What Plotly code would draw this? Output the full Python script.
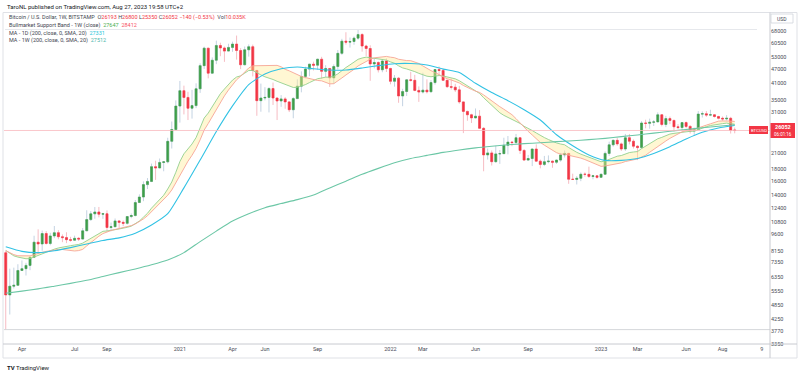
import plotly.graph_objects as go
import pandas as pd
import math

# ---------------- data (weekly BTC/USD, Bitstamp) ----------------
weeks = pd.date_range("2020-03-09", periods=181, freq="7D")

opens = [8040,5360,5830,5880,6780,6900,7120,7700,8900,8750,
         9670,8790,9450,9750,9380,9300,9120,9070,9240,9170,
         9930,11060,11690,11900,11650,11700,10250,10330,10920,10770,
         10670,11390,11500,13030,13740,15480,15960,18400,18170,19160,
         19270,23470,26300,32950,38200,35800,32260,33100,38900,48600,
         57500,45200,51200,59000,57600,55900,57900,59800,56200,49000,
         56600,58300,46400,34700,35600,35800,39000,35600,34600,35300,
         34300,31800,35400,39900,43800,47000,49300,48800,51700,46000,
         47300,43200,48200,54700,61500,60900,61300,63300,65500,58700,
         57300,49400,50100,46700,50800,47300,41800,43100,36300,37900,
         42400,42200,38300,37700,38400,37800,41300,46800,46400,42200,
         39700,39500,38500,34300,31300,30300,29400,29900,26600,20600,
         21000,19300,20800,20850,22600,23300,23200,24300,21500,19600,
         19900,21800,19400,18800,19300,19400,19200,19600,20600,20900,
         16300,16280,16450,17100,17090,16750,16850,16600,17100,20900,
         22700,23700,22900,21800,24300,23500,22400,22100,28000,27900,
         28200,28300,30300,27600,29200,28700,27000,26800,28100,27100,
         25900,26300,30500,30600,30200,30300,29800,29300,29100,29300,
         26193]

highs = [8180,6900,6970,7200,7470,7300,7740,9470,10070,9950,
         9900,9740,10400,9990,9590,9790,9370,9480,9340,10200,
         12100,12000,12480,12490,11800,12080,10750,11180,10990,10970,
         11450,11730,13350,14100,15970,16490,18950,19480,19900,19420,
         24300,28400,34800,41950,40100,37800,38500,41000,49700,58300,
         57500,52600,61800,60600,58400,60000,61200,64900,57500,58400,
         59600,59500,46600,40900,39500,39500,41300,35700,36600,35900,
         34600,35900,42600,46000,48100,49400,50500,51900,52900,48800,
         47300,49200,56500,62900,67000,63700,64300,69000,66400,59400,
         59100,51900,50600,51800,52100,47600,44400,43500,38900,42600,
         45800,44500,39800,45400,42600,42300,46900,48200,47200,42400,
         42900,40800,40000,34400,31500,30600,32200,31700,26900,21900,
         21500,22500,21600,24300,24700,23500,25200,24400,21800,20600,
         21900,22800,19700,20400,20500,19500,19700,21000,21500,21000,
         17200,16800,17400,17400,18400,17000,16900,17200,21300,23400,
         23900,24300,23200,25200,25200,23900,22600,28500,28900,29200,
         28800,31000,30500,30000,29800,28900,27700,28200,28400,27400,
         26800,31400,31300,31400,31800,30400,30000,29800,30200,29700,
         26800]

lows = [3850,4440,5700,5860,6780,6460,6800,7640,8100,8200,
        8700,8640,9250,9150,8900,8820,8950,9060,9000,9140,
        9930,10930,11150,11300,11140,9840,9880,10280,10140,10380,
        10540,11200,11410,12980,13200,14840,15860,16200,18130,17600,
        19000,21900,26100,28100,30400,28800,29200,32300,37400,47100,
        43000,45000,49300,53200,50400,55800,55500,51500,47000,48800,
        53000,43800,30000,31200,34800,31000,33300,28800,32700,32100,
        31100,29300,35300,37600,43000,43900,46400,46700,42800,43400,
        39600,40800,46900,53900,59500,57800,59400,62300,55600,53300,
        42000,47300,45500,45600,45700,40600,39700,34000,32900,36300,
        41700,38000,34300,37200,37200,37600,40500,44200,41900,39200,
        38600,37700,33700,25400,28600,28000,29300,26500,17600,19700,
        18600,19100,18900,20800,20700,22400,22700,20800,19500,19500,
        18500,19300,18100,18500,19000,18200,18900,19300,20100,15600,
        16200,15500,16000,16700,16500,16300,16400,16500,17100,20400,
        22300,22500,21400,21400,22800,21900,19600,21900,26600,26500,
        27200,28200,27100,26900,27700,25800,26400,26100,26600,25300,
        24800,26200,29500,29700,29900,29500,29000,28600,28700,25300,
        25350]

closes = [5360,5830,5880,6780,6900,7120,7700,8900,8750,9670,
          8790,9450,9750,9380,9300,9120,9070,9240,9170,9930,
          11060,11690,11900,11650,11700,10250,10330,10920,10770,10670,
          11390,11500,13030,13740,15480,15960,18400,18170,19160,19270,
          23470,26300,32950,38200,35800,32260,33100,38900,48600,57500,
          45200,51200,59000,57600,55900,57900,59800,56200,49000,56600,
          58300,46400,34700,35600,35800,39000,35600,34600,35300,34300,
          31800,35400,39900,43800,47000,49300,48800,51700,46000,47300,
          43200,48200,54700,61500,60900,61300,63300,65500,58700,57300,
          49400,50100,46700,50800,47300,41800,43100,36300,37900,42400,
          42200,38300,37700,38400,37800,41300,46800,46400,42200,39700,
          39500,38500,34300,31300,30300,29400,29900,26600,20600,21000,
          19300,20800,20850,22600,23300,23200,24300,21500,19600,19900,
          21800,19400,18800,19300,19400,19200,19600,20600,20900,16300,
          16280,16450,17100,17090,16750,16850,16600,17100,20900,22700,
          23700,22900,21800,24300,23500,22400,22100,28000,27900,28200,
          28300,30300,27600,29200,28700,27000,26800,28100,27100,25900,
          26300,30500,30600,30200,30300,29800,29300,29100,29300,26100,
          26052]

# Bull market support band (read values): 20W SMA (red) and 21W EMA (green)
band_sma = [8210,8042,7896,7810,7810,7796,7806,7896,7958,8072,
            8144,8206,8259,8298,8295,8244,8202,8179,8210,8305,
            8590,8883,9184,9427,9667,9824,9955,10056,10157,10207,
            10337,10440,10604,10822,11131,11473,11939,12386,12885,13352,
            13973,14703,15756,17083,18288,19389,20527,21926,23818,26159,
            27850,29835,32133,34326,36347,38444,40514,42416,43908,45774,
            47516,48521,48608,48478,48478,48815,48940,48725,48060,46900,
            46230,45440,44485,43795,43350,42920,42370,42145,41995,41530,
            40775,40865,41865,43160,44415,45530,46915,48460,49630,50780,
            51660,52395,52735,53085,53100,52725,52440,51670,51265,51020,
            50970,50475,49625,48470,47315,46315,45490,44535,43710,42830,
            42335,41755,41135,40160,39310,38690,38030,37545,36680,35610,
            34465,33590,32745,31955,31230,30325,29200,27955,26825,25835,
            24950,23995,23220,22620,22075,21565,21050,20750,20765,20530,
            20380,20163,19978,19703,19375,19058,18673,18453,18518,18658,
            18753,18928,19078,19328,19533,19693,19818,20188,20538,21133,
            21733,22425,22950,23555,24153,24660,25170,25720,26030,26190,
            26320,26700,27140,27435,27775,28145,28505,28560,28630,28525,
            28412]

band_ema = [8215,7998,7805,7712,7638,7591,7601,7719,7813,7982,
            8055,8182,8325,8421,8501,8557,8604,8662,8708,8819,
            9023,9265,9505,9700,9882,9915,9953,10041,10107,10158,
            10270,10382,10623,10906,11322,11744,12349,12878,13449,13978,
            14841,15883,17434,19322,20820,21860,22882,24338,26543,29357,
            30797,32652,35047,37097,38806,40542,42293,43557,44052,45193,
            46384,46385,45323,44439,43654,43231,42537,41816,41224,40595,
            39796,39396,39442,39838,40489,41290,41973,42857,43143,43521,
            43492,43920,44900,46409,47726,48960,50264,51649,52290,52745,
            52441,52228,51726,51642,51247,50388,49726,48506,47542,47075,
            46632,45875,45132,44520,43909,43672,43956,44178,43998,43607,
            43234,42804,42031,41056,40078,39107,38270,37209,35699,34363,
            32994,31886,30878,30126,29506,28933,28512,27875,27123,26466,
            26042,25438,24835,24332,23884,23458,23107,22879,22699,22117,
            21588,21121,20755,20423,20089,19795,19505,19286,19433,19730,
            20091,20346,20478,20825,21068,21189,21272,21884,22431,22955,
            23441,24064,24385,24823,25175,25341,25474,25713,25839,25845,
            25886,26305,26695,27014,27313,27539,27699,27826,27960,27791,
            27647]

# MA 1D(200) and MA 1W(200), read every 4th week
ma_weeks = weeks[::4]
ma_200d = [8520,8150,8050,8200,8450,8750,9050,9280,9700,10500,
           11700,15000,19600,25800,33000,40500,44800,47200,48000,47200,
           46600,46600,47500,48600,49500,49600,48900,47000,45500,41000,
           37500,34700,31800,28800,25000,22500,20600,19550,19550,19900,
           20900,22300,24000,25600,26700,27331]
ma_200w = [5450,5560,5680,5830,5990,6170,6400,6640,6880,7160,
           7500,8050,8950,9900,10900,11700,12400,12900,13400,14000,
           15000,16000,17100,18100,19100,19900,20500,21100,21600,22050,
           22400,22700,22950,23150,23400,23600,23850,24150,24550,24950,
           25400,25850,26300,26750,27150,27512]

x_tick_dates = ["2020-04-06","2020-07-06","2020-08-31","2021-01-04","2021-04-05",
                "2021-05-31","2021-08-30","2022-01-03","2022-02-28","2022-05-30",
                "2022-08-29","2023-01-02","2023-03-06","2023-05-29","2023-07-31",
                "2023-10-07"]
x_tick_text = ["Apr","Jul","Sep","2021","Apr","Jun","Sep","2022","Mar","Jun",
               "Sep","2023","Mar","Jun","Aug","9"]
y_ticks = [68000,60500,53000,47000,41000,35000,31000,21000,18000,16000,
           14000,12400,10800,9600,8150,7350,6350,5550,4850,4250,3770,3350]
last_price = 26052

# ---------------- styling ----------------
UP = "#3f9f48"
DN = "#f23645"
UP_WICK = "#c4d3e2"
DN_WICK = "#f6bcc3"
FONT = "Roboto"
TXT = "#131722"

W, H = 800, 375
L, R, T, B = 4, 30, 13, 31
PW, PH = W - L - R, H - T - B

def px(x):
    return (x - L) / PW

def py(y):
    return (H - B - y) / PH

fig = go.Figure()

fig.add_trace(go.Scatter(x=weeks, y=band_ema, mode="lines",
                         line=dict(color="#93d08f", width=0.9), hoverinfo="skip"))
fig.add_trace(go.Scatter(x=weeks, y=band_sma, mode="lines",
                         line=dict(color="#f6a596", width=0.9), fill="tonexty",
                         fillcolor="rgba(255,236,150,0.42)", hoverinfo="skip"))
fig.add_trace(go.Scatter(x=ma_weeks, y=ma_200d, mode="lines",
                         line=dict(color="#31c2e4", width=1.1, shape="spline", smoothing=0.6),
                         hoverinfo="skip"))
fig.add_trace(go.Scatter(x=ma_weeks, y=ma_200w, mode="lines",
                         line=dict(color="#6cc7a6", width=1.1, shape="spline", smoothing=0.6),
                         hoverinfo="skip"))

# wicks (light)
fig.add_trace(go.Candlestick(x=weeks, open=opens, high=highs, low=lows, close=closes,
                             increasing=dict(line=dict(color=UP_WICK, width=1), fillcolor=UP_WICK),
                             decreasing=dict(line=dict(color=DN_WICK, width=1), fillcolor=DN_WICK),
                             whiskerwidth=0, hoverinfo="skip"))
# bodies
body_hi = [max(o, c) for o, c in zip(opens, closes)]
body_lo = [min(o, c) for o, c in zip(opens, closes)]
fig.add_trace(go.Candlestick(x=weeks, open=opens, high=body_hi, low=body_lo, close=closes,
                             increasing=dict(line=dict(color=UP, width=0.5), fillcolor=UP),
                             decreasing=dict(line=dict(color=DN, width=0.5), fillcolor=DN),
                             whiskerwidth=0, hoverinfo="skip"))

y_lo = math.log10(3344)
y_hi = math.log10(80617)

fig.update_layout(
    width=W, height=H, autosize=False,
    margin=dict(l=L, r=R, t=T, b=B, pad=0, autoexpand=False),
    paper_bgcolor="white", plot_bgcolor="white",
    showlegend=False, hovermode=False,
    font=dict(family=FONT, size=6, color=TXT),
    xaxis=dict(type="date", range=["2020-03-06", "2023-10-21"], automargin=False,
               rangeslider=dict(visible=False), showgrid=False, zeroline=False,
               tickvals=x_tick_dates, ticktext=x_tick_text, ticks="",
               tickfont=dict(size=5.5, color="#4a4d57"), showline=False),
    yaxis=dict(type="log", side="right", range=[y_lo, y_hi], showgrid=False,
               automargin=False,
               zeroline=False, tickvals=y_ticks, ticktext=[str(v) for v in y_ticks],
               ticks="", tickfont=dict(size=5.5, color="#4a4d57"), showline=False),
)

shapes = []
# current price line
shapes.append(dict(type="line", xref="paper", yref="y", x0=0, x1=1,
                   y0=last_price, y1=last_price, line=dict(color="#f9b9be", width=0.8)))
# horizontal drawing near covid low
shapes.append(dict(type="line", xref="paper", yref="y", x0=0, x1=1,
                   y0=3840, y1=3840, line=dict(color="#c9cbd1", width=0.8)))
# frame
shapes.append(dict(type="rect", xref="paper", yref="paper", x0=px(3), x1=px(797),
                   y0=py(358), y1=py(12.5), line=dict(color="#dfe1e6", width=1)))
# price axis line
shapes.append(dict(type="line", xref="paper", yref="paper", x0=px(770), x1=px(770),
                   y0=py(358), y1=py(12.5), line=dict(color="#c8cad0", width=1)))
# time axis line
shapes.append(dict(type="line", xref="paper", yref="paper", x0=px(3), x1=px(797),
                   y0=py(344), y1=py(344), line=dict(color="#c8cad0", width=1)))
# header separator
shapes.append(dict(type="line", xref="paper", yref="paper", x0=px(5), x1=px(757),
                   y0=py(29.5), y1=py(29.5), line=dict(color="#e6e8ec", width=1)))
# USD box
shapes.append(dict(type="rect", xref="paper", yref="paper", x0=px(771), x1=px(793),
                   y0=py(23), y1=py(14), line=dict(color="#d1d4dc", width=0.8),
                   fillcolor="white"))
# price labels
shapes.append(dict(type="rect", xref="paper", yref="paper", x0=px(770.5), x1=px(795),
                   y0=py(138), y1=py(123), line=dict(width=0), fillcolor=DN))
shapes.append(dict(type="rect", xref="paper", yref="paper", x0=px(749), x1=px(768),
                   y0=py(134), y1=py(126), line=dict(width=0), fillcolor=DN))
fig.update_layout(shapes=shapes)

ann = []
def text(x, y, s, size=5.5, color=TXT, anchor="left"):
    ann.append(dict(xref="paper", yref="paper", x=px(x), y=py(y), text=s,
                    showarrow=False, xanchor=anchor, yanchor="middle",
                    font=dict(size=size, color=color, family=FONT)))

R_ = "#f23645"
text(5, 6, "TaroNL published on TradingView.com, Aug 27, 2023 19:58 UTC+2", size=6)
text(7, 17.5, ("Bitcoin / U.S. Dollar, 1W, BITSTAMP  "
               f"O<span style='color:{R_}'>26193</span> H<span style='color:{R_}'>26800</span> "
               f"L<span style='color:{R_}'>25350</span> C<span style='color:{R_}'>26052</span> "
               f"<span style='color:{R_}'>−140 (−0.53%)</span>  Vol<span style='color:{R_}'>10.035K</span>"),
     color="#434651")
text(7, 25, ("Bullmarket Support Band - 1W (close)  "
             "<span style='color:#4caf50'>27647</span>  <span style='color:#f7525f'>28412</span>"),
     color="#434651")
text(7, 33.5, "MA - 1D (200, close, 0, SMA, 20)  <span style='color:#26c6da'>27331</span>",
     color="#434651")
text(7, 41, "MA - 1W (200, close, 0, SMA, 20)  <span style='color:#4db6ac'>27512</span>",
     color="#434651")
text(782, 18.5, "USD", size=5, color="#434651", anchor="center")
text(782.5, 127.5, "<b>26052</b>", size=5.5, color="white", anchor="center")
text(782.5, 134, "06:01:16", size=4.5, color="white", anchor="center")
text(758.5, 130, "BTCUSD", size=4.3, color="white", anchor="center")
text(5, 367, "<b>TV</b> TradingView", size=6, color="#131722")
fig.update_layout(annotations=ann)

fig.write_html("out.html", config={"displayModeBar": False, "staticPlot": True},
               post_script="document.body.style.margin='0';document.body.style.overflow='hidden';")
